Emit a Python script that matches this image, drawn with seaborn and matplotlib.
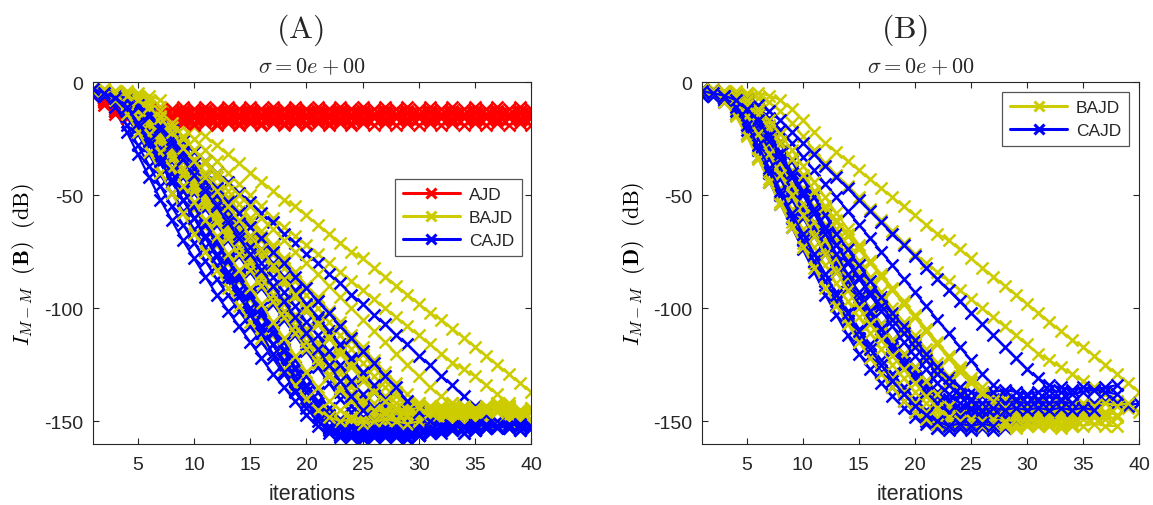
import numpy as np
import pandas as pd
import matplotlib
matplotlib.use("Agg")
import matplotlib.pyplot as plt
import seaborn as sns
from matplotlib.lines import Line2D

# ---------------- data (dB values per iteration, starting at iteration 1) ----------------
# Panel (A): AJD
A_AJD_1 = [-5,-8,-11,-12,-11,-12,-11,-12,-11,-12, -11,-12,-11,-12,-11,-12,-11,-12,-11,-12,
           -11,-12,-11,-12,-11,-12,-11,-12,-11,-12, -11,-12,-11,-12,-11,-12,-11,-12,-11,-12]
A_AJD_2 = [-4,-7,-11,-14,-13,-14,-13,-14,-13,-14, -13,-14,-13,-14,-13,-14,-13,-14,-13,-14,
           -13,-14,-13,-14,-13,-14,-13,-14,-13,-14, -13,-14,-13,-14,-13,-14,-13,-14,-13,-14]
A_AJD_3 = [-5,-9,-13,-15,-16,-15,-16,-15,-16,-15, -16,-15,-16,-15,-16,-15,-16,-15,-16,-15,
           -16,-15,-16,-15,-16,-15,-16,-15,-16,-15, -16,-15,-16,-15,-16,-15,-16,-15,-16,-15]
A_AJD_4 = [-6,-10,-14,-16,-17,-18,-17,-18,-17,-18, -17,-18,-17,-18,-17,-18,-17,-18,-17,-18,
           -17,-18,-17,-18,-17]
A_AJD_5 = [-4,-6,-9,-12,-14,-15,-14,-15,-14,-15, -14,-15,-14,-15,-14,-15,-14,-15,-14,-15,
           -14,-15,-14,-15,-14,-15,-14,-15,-14,-15, -14,-15,-14,-15,-14,-15,-14,-15,-14,-15]
A_AJD_6 = [-5,-8,-12,-16,-18,-19,-18,-19,-18,-19, -18,-19,-18,-19,-18,-19,-18,-19,-18,-19,
           -18,-19,-18,-19,-18,-19,-18,-19,-18,-19, -18,-19,-18,-19,-18,-19,-18,-19,-18,-19]
A_AJD_7 = [-4,-8,-13,-16,-17,-16,-17,-16,-17,-16, -17,-16,-17,-16,-17,-16,-17,-16,-17,-16,
           -17,-16,-17,-16,-17,-16,-17,-16,-17,-16, -17,-16,-17,-16,-17,-16,-17,-16,-17,-16]
A_AJD_8 = [-5,-7,-10,-12,-13,-12,-13,-12,-13,-12, -13,-12,-13,-12,-13,-12,-13,-12,-13,-12,
           -13,-12,-13,-12,-13]

# Panel (A): BAJD
A_BAJD_1 = [-3,-3,-4,-4,-5,-6,-8,-12,-16,-20, -24,-28,-32,-36,-40,-44,-48,-52,-55,-59,
            -63,-67,-71,-75,-78,-82,-86,-90,-94,-98, -102,-105,-109,-113,-117,-121,-125,-129,-133,-137]
A_BAJD_2 = [-3,-4,-4,-5,-6,-8,-11,-15,-20,-25, -30,-35,-40,-45,-50,-55,-60,-64,-68,-72,
            -76,-80,-84,-88,-92,-96,-100,-104,-108,-112, -116,-120,-124,-127,-130,-134,-138,-142,-146,-150]
A_BAJD_3 = [-3,-4,-5,-6,-8,-11,-16,-22,-28,-34, -40,-46,-52,-58,-64,-70,-76,-82,-88,-94,
            -100,-106,-112,-118,-124,-130,-135,-139,-142,-144, -143,-145,-144,-143,-145,-144,-143,-144,-145,-144]
A_BAJD_4 = [-4,-4,-5,-7,-10,-15,-21,-28,-35,-42, -49,-56,-63,-70,-77,-84,-91,-98,-105,-112,
            -119,-126,-132,-138,-143,-146,-147,-146,-148,-147, -146,-147,-148,-147,-146,-147]
A_BAJD_5 = [-3,-4,-6,-9,-14,-20,-27,-34,-41,-48, -55,-62,-69,-76,-83,-90,-97,-104,-111,-118,
            -124,-130,-136,-141,-145,-148,-149,-148,-150,-149, -148,-149,-150,-149,-148,-149,-150,-149,-148,-149]
A_BAJD_6 = [-4,-5,-7,-11,-17,-24,-32,-40,-48,-56, -64,-72,-80,-88,-96,-104,-112,-120,-128,-135,
            -141,-146,-149,-150,-151,-150,-152,-151,-150,-151]
A_BAJD_7 = [-3,-4,-6,-8,-12,-17,-23,-29,-35,-41, -47,-53,-59,-65,-71,-77,-83,-89,-95,-101,
            -107,-113,-119,-125,-130,-135,-139,-142,-143,-142, -144,-143,-142,-143,-144,-143,-142,-143]
A_BAJD_8 = [-3,-3,-5,-8,-13,-19,-26,-33,-40,-47, -54,-61,-67,-73,-79,-85,-91,-97,-103,-109,
            -115,-121,-127,-133,-138,-142,-145,-146,-145,-147, -146,-145,-146,-147,-146]
A_BAJD_9 = [-4,-5,-6,-9,-13,-18,-24,-31,-38,-45, -52,-59,-66,-73,-80,-87,-94,-101,-108,-115,
            -122,-129,-135,-140,-144,-146,-147,-146,-145,-146, -147,-146,-145,-146,-147,-146,-145,-146,-147,-146]
A_BAJD_10 = [-3,-4,-5,-7,-11,-16,-22,-28,-34,-40, -46,-52,-58,-64,-70,-76,-82,-88,-94,-100,
             -106,-112,-118,-124,-130,-136,-141,-145,-148,-150, -151,-150,-152,-151,-150,-151,-152,-151,-150,-151]
A_BAJD_11 = [-3,-4,-5,-7,-12,-18,-25,-31,-38,-44, -51,-57,-64,-70,-77,-83,-90,-96,-103,-109,
             -116,-122,-129,-135,-140,-144,-146,-145,-147,-146, -145,-146,-147,-146]
A_BAJD_12 = [-4,-4,-5,-6,-9,-13,-18,-24,-29,-35, -40,-46,-51,-57,-62,-68,-73,-79,-84,-90,
             -95,-101,-106,-112,-117,-123,-128,-133,-138,-142, -145,-146,-145,-147,-146,-145,-146,-147,-146,-145]
A_BAJD_13 = [-3,-4,-6,-10,-16,-23,-31,-38,-46,-53, -61,-68,-76,-83,-91,-98,-106,-113,-121,-128,
             -135,-141,-145,-148,-149,-148,-150,-149,-148,-149, -150,-149]
A_BAJD_14 = [-4,-5,-5,-6,-7,-9,-13,-18,-24,-30, -36,-42,-48,-54,-60,-66,-72,-78,-84,-90,
             -96,-102,-108,-114,-120,-126,-132,-137,-141,-143, -144,-143,-142,-143,-144,-143,-142,-143]
A_BAJD_15 = [-3,-3,-4,-6,-9,-14,-20,-27,-34,-41, -48,-55,-62,-69,-76,-83,-90,-97,-104,-111,
             -118,-125,-132,-138,-142,-145,-146,-145,-144,-145, -146,-145,-144,-145,-146,-145]
A_BAJD_16 = [-3,-4,-5,-6,-8,-11,-15,-20,-25,-30, -35,-40,-45,-50,-55,-60,-65,-70,-75,-80,
             -85,-90,-95,-100,-105,-110,-115,-120,-125,-130, -135,-139,-142,-144,-145,-144,-143,-144,-145,-144]
A_BAJD_17 = [-4,-5,-8,-14,-22,-31,-40,-49,-58,-67, -75,-83,-91,-99,-106,-113,-120,-127,-134,-140,
             -145,-148,-150,-149,-151,-150,-149,-150,-151,-150]
A_BAJD_18 = [-4,-4,-5,-6,-8,-11,-16,-22,-29,-35, -42,-48,-55,-61,-68,-74,-81,-87,-94,-100,
             -107,-113,-120,-126,-132,-137,-141,-144,-145,-144, -146,-145,-144,-145,-146]

# Panel (A): CAJD
A_CAJD_1 = [-4,-7,-13,-22,-32,-42,-52,-61,-70,-78, -86,-94,-101,-108,-115,-122,-129,-135,-141,-147,
            -152,-155,-157,-156,-157]
A_CAJD_2 = [-5,-6,-8,-12,-20,-28,-36,-44,-52,-60, -68,-76,-84,-92,-100,-108,-116,-124,-132,-140,
            -147,-153,-156,-155,-157,-156,-154,-155,-157,-156]
A_CAJD_3 = [-3,-5,-7,-10,-14,-21,-28,-35,-42,-49, -56,-63,-70,-77,-84,-91,-98,-105,-112,-119,
            -126,-133,-140,-146,-151,-154,-153,-155,-154,-156, -155,-154,-153,-155,-154]
A_CAJD_4 = [-4,-5,-6,-8,-12,-18,-25,-32,-39,-46, -53,-60,-67,-74,-81,-88,-95,-102,-109,-116,
            -123,-130,-137,-143,-148,-152,-154,-153,-155,-156, -154,-155]
A_CAJD_5 = [-6,-7,-8,-10,-13,-17,-23,-29,-35,-41, -47,-53,-59,-65,-71,-77,-83,-89,-95,-101,
            -107,-113,-119,-125,-131,-137,-143,-148,-151,-153, -152,-154,-153,-152,-154,-153,-152,-153,-154,-153]
A_CAJD_6 = [-3,-4,-6,-9,-12,-16,-21,-27,-33,-39, -45,-51,-57,-63,-69,-75,-81,-87,-93,-99,
            -105,-111,-117,-123,-129,-135,-141,-146,-150,-152, -151,-153,-152,-151,-152,-153]
A_CAJD_7 = [-5,-6,-7,-8,-10,-13,-17,-21,-26,-31, -35,-40,-44,-49,-53,-58,-62,-67,-71,-76,
            -80,-85,-89,-94,-98,-103,-107,-112,-116,-121, -125,-130,-134,-139,-143,-147,-150,-153,-154,-153]
A_CAJD_8 = [-4,-5,-7,-10,-15,-22,-30,-38,-46,-54, -62,-70,-78,-86,-94,-102,-110,-118,-126,-134,
            -141,-147,-151,-153,-152,-154,-153,-155,-154,-153, -154]
A_CAJD_9 = [-5,-6,-8,-11,-16,-23,-31,-39,-47,-55, -63,-71,-79,-87,-95,-103,-111,-119,-127,-135,
            -142,-148,-153,-156,-158,-157,-156,-157,-158,-156]
A_CAJD_10 = [-4,-5,-6,-8,-11,-15,-20,-26,-32,-38, -44,-50,-56,-62,-68,-74,-80,-86,-92,-98,
             -104,-110,-116,-122,-128,-134,-140,-145,-149,-151, -152,-151,-152,-153,-152,-151,-152,-151,-152,-153]
A_CAJD_11 = [-5,-6,-9,-15,-23,-32,-41,-49,-57,-65, -73,-81,-88,-95,-102,-109,-116,-123,-130,-137,
             -143,-149,-153,-156,-157,-155,-157,-156]
A_CAJD_12 = [-4,-5,-7,-11,-18,-25,-33,-40,-48,-55, -63,-70,-78,-85,-93,-100,-108,-115,-123,-130,
             -137,-144,-149,-152,-154,-153,-155,-154,-153,-155, -154,-153,-154]
A_CAJD_13 = [-3,-4,-5,-7,-10,-15,-21,-28,-34,-41, -47,-54,-60,-67,-73,-80,-86,-93,-99,-106,
             -112,-119,-125,-132,-138,-144,-149,-152,-153,-152, -154,-153,-152,-153,-154,-153,-152,-153,-154,-153]
A_CAJD_14 = [-4,-6,-8,-13,-20,-28,-36,-44,-52,-60, -68,-76,-84,-92,-100,-108,-116,-124,-132,-140,
             -147,-152,-155,-157,-156,-157,-155,-156,-157,-156]
A_CAJD_15 = [-5,-5,-6,-8,-10,-14,-20,-27,-34,-41, -48,-55,-62,-69,-76,-83,-90,-97,-104,-111,
             -118,-125,-132,-139,-145,-150,-153,-154,-153,-155, -154,-153,-154,-155,-154,-153]
A_CAJD_16 = [-4,-6,-11,-19,-28,-37,-46,-55,-63,-71, -79,-87,-94,-101,-108,-115,-122,-129,-136,-142,
             -148,-153,-156,-157,-155,-156]
A_CAJD_17 = [-4,-5,-6,-8,-11,-15,-20,-25,-31,-36, -42,-47,-53,-58,-64,-69,-75,-80,-86,-91,
             -97,-102,-108,-113,-119,-124,-130,-135,-141,-146, -150,-152,-153,-152,-151,-152,-153,-152,-151,-152]
A_CAJD_18 = [-3,-5,-7,-11,-18,-26,-35,-43,-52,-60, -69,-77,-86,-94,-103,-111,-120,-128,-137,-144,
             -150,-154,-156,-155,-157,-156,-155,-156,-157,-156, -155]

# Panel (B): BAJD
B_BAJD_1 = [-3,-3,-4,-4,-5,-5,-6,-8,-12,-17, -22,-27,-31,-35,-39,-43,-47,-51,-55,-59,
            -63,-67,-70,-74,-78,-82,-86,-90,-94,-98, -102,-106,-110,-114,-117,-121,-125,-129,-133,-137]
B_BAJD_2 = [-3,-4,-4,-5,-6,-7,-9,-13,-18,-24, -30,-36,-41,-46,-51,-56,-61,-66,-71,-76,
            -80,-84,-88,-92,-96,-100,-104,-108,-112,-116, -120,-123,-126,-129,-132,-135,-138,-141,-144,-146]
B_BAJD_3 = [-4,-4,-5,-7,-11,-17,-24,-32,-40,-48, -56,-63,-70,-77,-84,-91,-98,-104,-110,-116,
            -122,-128,-134,-139,-143,-147,-150,-151,-152,-151, -152,-151,-152,-151,-152,-151,-152,-152]
B_BAJD_4 = [-3,-4,-5,-8,-14,-22,-31,-40,-49,-58, -66,-74,-82,-90,-97,-104,-111,-118,-124,-130,
            -136,-141,-145,-147,-146,-147,-146,-147,-146,-147, -146,-147,-146,-147,-146,-147,-146]
B_BAJD_5 = [-4,-5,-7,-12,-20,-29,-38,-47,-56,-65, -73,-81,-89,-97,-104,-111,-118,-125,-131,-137,
            -142,-146,-149,-150,-151,-150,-151,-150,-151,-150, -151,-150,-151,-150]
B_BAJD_6 = [-3,-3,-4,-6,-10,-16,-23,-31,-39,-47, -55,-63,-70,-77,-84,-91,-97,-103,-109,-115,
            -121,-127,-132,-137,-141,-144,-145,-144,-145,-144, -145,-144,-145,-144,-145,-144]
B_BAJD_7 = [-5,-5,-6,-7,-9,-13,-19,-26,-34,-42, -50,-58,-65,-72,-79,-86,-93,-100,-106,-112,
            -118,-124,-130,-135,-140,-144,-147,-148,-149,-148, -149,-148,-149,-148,-149,-148,-149,-148]
B_BAJD_8 = [-4,-5,-8,-14,-23,-33,-43,-53,-62,-71, -80,-88,-96,-104,-111,-118,-125,-131,-137,-142,
            -146,-148,-149,-148,-149,-148,-149,-148,-149,-148]
B_BAJD_9 = [-3,-4,-5,-7,-10,-15,-21,-28,-35,-42, -49,-56,-62,-68,-74,-80,-86,-92,-98,-104,
            -110,-116,-121,-126,-131,-135,-138,-140,-142,-143, -142,-143,-142,-143,-142,-143,-142,-143,-142]
B_BAJD_10 = [-5,-6,-9,-15,-24,-34,-44,-54,-64,-73, -82,-91,-99,-107,-115,-122,-129,-135,-141,-146,
             -149,-151,-152,-151,-152,-151,-152,-151,-152]
B_BAJD_11 = [-4,-4,-5,-7,-12,-19,-27,-36,-45,-54, -62,-70,-78,-86,-93,-100,-107,-114,-120,-126,
             -132,-138,-143,-147,-150,-152,-151,-152,-153,-152, -151,-152,-153,-152]
B_BAJD_12 = [-3,-4,-5,-6,-8,-12,-17,-23,-30,-37, -44,-51,-58,-65,-72,-79,-86,-92,-98,-104,
             -110,-116,-122,-128,-133,-138,-142,-145,-147,-148, -147,-148,-147,-148,-147,-148,-147]
B_BAJD_13 = [-4,-5,-6,-9,-15,-23,-32,-41,-50,-59, -68,-76,-84,-92,-100,-107,-114,-121,-127,-133,
             -139,-144,-148,-150,-149,-150,-149,-150,-149,-150, -149,-150]
B_BAJD_14 = [-3,-4,-5,-7,-10,-14,-20,-27,-34,-41, -48,-55,-61,-67,-73,-79,-85,-91,-97,-103,
             -109,-115,-121,-127,-132,-137,-141,-144,-146,-147, -146,-147,-146,-147,-146,-147,-146,-147]

# Panel (B): CAJD
B_CAJD_1 = [-4,-6,-9,-14,-23,-33,-44,-54,-64,-74, -84,-94,-103,-112,-120,-127,-133,-139,-144,-148,
            -151,-153,-152,-153,-152,-153]
B_CAJD_2 = [-3,-5,-7,-12,-20,-29,-39,-49,-58,-67, -76,-85,-93,-101,-109,-116,-123,-129,-135,-140,
            -145,-149,-151,-152,-151,-152,-151,-152]
B_CAJD_3 = [-5,-5,-6,-9,-15,-23,-32,-41,-50,-59, -67,-75,-83,-91,-98,-105,-112,-119,-125,-131,
            -137,-142,-146,-149,-150,-149,-150,-149,-150]
B_CAJD_4 = [-4,-5,-6,-8,-12,-19,-27,-36,-45,-54, -62,-70,-78,-86,-93,-100,-107,-114,-120,-126,
            -132,-137,-141,-144,-145,-144,-145,-144,-145,-144, -145]
B_CAJD_5 = [-4,-4,-5,-6,-8,-10,-13,-17,-22,-27, -32,-37,-42,-47,-52,-57,-62,-67,-72,-77,
            -82,-87,-92,-97,-102,-107,-112,-117,-122,-127, -131,-134,-135,-136,-135,-136,-135,-134]
B_CAJD_6 = [-5,-5,-6,-7,-9,-12,-16,-21,-27,-33, -39,-45,-51,-57,-63,-69,-75,-81,-87,-93,
            -99,-105,-111,-117,-123,-129,-134,-138,-141,-142, -143,-142,-141,-142,-143,-142,-141,-142,-143,-142]
B_CAJD_7 = [-3,-4,-6,-10,-17,-25,-34,-43,-52,-60, -68,-76,-84,-91,-98,-105,-112,-118,-124,-130,
            -135,-139,-140,-139,-140,-139,-140,-141,-140,-139, -140,-139,-140]
B_CAJD_8 = [-4,-5,-8,-13,-21,-30,-40,-50,-60,-70, -79,-88,-97,-105,-113,-121,-128,-135,-141,-146,
            -150,-153,-154,-153,-154,-153,-154,-153]
B_CAJD_9 = [-3,-4,-6,-9,-14,-21,-29,-38,-47,-56, -64,-72,-80,-88,-95,-102,-109,-116,-122,-128,
            -134,-139,-143,-146,-147,-146,-147,-146,-147,-146, -147,-146]
B_CAJD_10 = [-6,-6,-7,-8,-10,-14,-20,-27,-35,-43, -51,-59,-67,-74,-81,-88,-95,-102,-108,-114,
             -120,-126,-131,-135,-137,-138,-137,-136,-137,-138, -137,-136,-137,-138,-137,-136,-137,-138]
B_CAJD_11 = [-4,-5,-6,-8,-11,-16,-23,-31,-40,-49, -58,-67,-76,-85,-93,-101,-109,-117,-124,-131,
             -137,-142,-146,-148,-149,-148,-149,-148,-149,-148]
B_CAJD_12 = [-5,-6,-7,-9,-13,-19,-26,-34,-42,-50, -58,-65,-72,-79,-86,-93,-99,-105,-111,-117,
             -123,-129,-134,-138,-141,-142,-141,-142,-141,-142, -141,-142,-141,-142]
B_CAJD_13 = [-3,-4,-6,-11,-19,-28,-38,-48,-58,-67, -76,-85,-94,-102,-110,-118,-125,-132,-138,-143,
             -147,-150,-152,-151,-152,-151,-152]
B_CAJD_14 = [-4,-5,-6,-8,-12,-17,-24,-32,-40,-48, -56,-64,-72,-80,-87,-94,-101,-108,-115,-121,
             -127,-133,-138,-142,-144,-145,-144,-145,-144,-145, -144,-145,-144,-145,-144,-145]

methods = ["AJD", "BAJD", "CAJD"]
panel_titles = ["(A)", "(B)"]
sigma_title = r"$\sigma = 0e + 00$"
ylabels = [r"$I_{M-M}\ \ \mathbf{(B)}\ \ \mathrm{(dB)}$", r"$I_{M-M}\ \ \mathbf{(D)}\ \ \mathrm{(dB)}$"]
xlabel = "iterations"
xticks = [5, 10, 15, 20, 25, 30, 35, 40]
yticks = [-150, -100, -50, 0]

panel_data = {
    "(A)": {
        "AJD": [A_AJD_1, A_AJD_2, A_AJD_3, A_AJD_4, A_AJD_5, A_AJD_6, A_AJD_7, A_AJD_8],
        "BAJD": [A_BAJD_1, A_BAJD_2, A_BAJD_3, A_BAJD_4, A_BAJD_5, A_BAJD_6,
                 A_BAJD_7, A_BAJD_8, A_BAJD_9, A_BAJD_10, A_BAJD_11, A_BAJD_12,
                 A_BAJD_13, A_BAJD_14, A_BAJD_15, A_BAJD_16, A_BAJD_17, A_BAJD_18],
        "CAJD": [A_CAJD_1, A_CAJD_2, A_CAJD_3, A_CAJD_4, A_CAJD_5, A_CAJD_6,
                 A_CAJD_7, A_CAJD_8, A_CAJD_9, A_CAJD_10, A_CAJD_11, A_CAJD_12,
                 A_CAJD_13, A_CAJD_14, A_CAJD_15, A_CAJD_16, A_CAJD_17, A_CAJD_18],
    },
    "(B)": {
        "AJD": [],
        "BAJD": [B_BAJD_1, B_BAJD_2, B_BAJD_3, B_BAJD_4, B_BAJD_5, B_BAJD_6, B_BAJD_7,
                 B_BAJD_8, B_BAJD_9, B_BAJD_10, B_BAJD_11, B_BAJD_12, B_BAJD_13, B_BAJD_14],
        "CAJD": [B_CAJD_1, B_CAJD_2, B_CAJD_3, B_CAJD_4, B_CAJD_5, B_CAJD_6, B_CAJD_7,
                 B_CAJD_8, B_CAJD_9, B_CAJD_10, B_CAJD_11, B_CAJD_12, B_CAJD_13, B_CAJD_14],
    },
}

# long-form table
rows = []
for panel, groups in panel_data.items():
    for method, series in groups.items():
        for trial, vals in enumerate(series):
            for it, v in enumerate(vals, start=1):
                rows.append((panel, method, trial, it, v))
df = pd.DataFrame(rows, columns=["panel", "method", "trial", "iteration", "value"])

# ---------------- style ----------------
sns.set_theme(style="ticks")
plt.rcParams["font.family"] = ["Liberation Sans", "DejaVu Sans"]
plt.rcParams["mathtext.fontset"] = "cm"
plt.rcParams["axes.unicode_minus"] = False

colors = {"AJD": "#FF0000", "BAJD": "#CCCC00", "CAJD": "#0000FF"}
axis_col = "#262626"
LW, MS, MEW = 1.6, 8, 1.8

W, H = 1153, 506
fig = plt.figure(figsize=(W / 100, H / 100), dpi=100)
axes = [fig.add_axes([93 / W, 61 / H, 438 / W, 362 / H]),
        fig.add_axes([702 / W, 61 / H, 437 / W, 362 / H])]
title_x = [300 / W, 904 / W]

for k, (ax, panel) in enumerate(zip(axes, panel_titles)):
    sub = df[df.panel == panel]
    n_trials = sub.trial.max() + 1
    for t in range(n_trials):
        for m in methods:
            d = sub[(sub.method == m) & (sub.trial == t)]
            if d.empty:
                continue
            sns.lineplot(data=d, x="iteration", y="value", ax=ax, color=colors[m],
                         estimator=None, sort=False, legend=False,
                         linewidth=LW, marker="x", markersize=MS,
                         markeredgewidth=MEW, markeredgecolor=colors[m])
    ax.set_xlim(1, 40)
    ax.set_ylim(-160, 0)
    ax.set_xticks(xticks)
    ax.set_yticks(yticks)
    ax.set_xticklabels([str(v) for v in xticks])
    ax.set_yticklabels([str(v) for v in yticks])
    ax.tick_params(axis="both", direction="in", length=4, width=0.8, top=True, right=True,
                   labelsize=14, colors=axis_col)
    ax.tick_params(axis="x", pad=9)
    ax.tick_params(axis="y", pad=7)
    for s in ax.spines.values():
        s.set_visible(True)
        s.set_color(axis_col)
        s.set_linewidth(0.8)
    ax.set_xlabel(xlabel, fontsize=15.5, color=axis_col)
    ax.xaxis.set_label_coords(0.5, -55 / 362)
    ax.xaxis.label.set_verticalalignment("baseline")
    ax.set_ylabel(ylabels[k], fontsize=16, color="black")
    ax.yaxis.set_label_coords(-69 / 438, 0.5)
    ax.yaxis.label.set_verticalalignment("center")
    ax.text(0.5, 1 + 15 / 362, sigma_title, transform=ax.transAxes,
            ha="center", va="center", fontsize=16)
    fig.text(title_x[k], 1 - 30 / H, r"$\mathrm{" + panel + "}$", ha="center", va="center",
             fontsize=23)

    present = [m for m in methods if len(panel_data[panel][m]) > 0]
    handles = [Line2D([], [], color=colors[m], lw=2.2, marker="x", markersize=7,
                      markeredgewidth=2.2) for m in present]
    anchor = (0.979, 0.732) if panel == "(A)" else (0.977, 0.972)
    leg = ax.legend(handles, present, loc="upper right", bbox_to_anchor=anchor,
                    fontsize=12.5, frameon=True, fancybox=False, framealpha=1,
                    edgecolor="#555555", handlelength=3.3, labelspacing=0.45,
                    borderpad=0.45, handletextpad=0.5, borderaxespad=0)
    leg.get_frame().set_linewidth(0.9)

fig.savefig("out.png", dpi=100)
